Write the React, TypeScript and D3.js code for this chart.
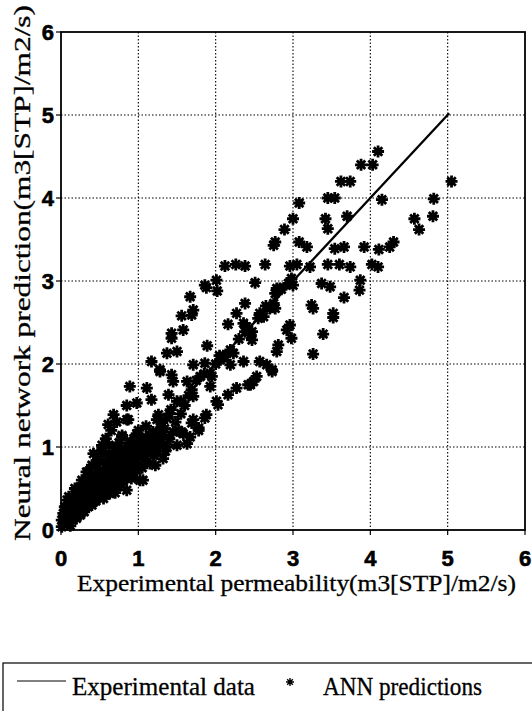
import React from "react";
import * as d3 from "d3";

const xTicks = [0, 1, 2, 3, 4, 5, 6];
const yTicks = [0, 1, 2, 3, 4, 5, 6];
const lineX = [0, 5.02];
const lineY = [0, 5.02];

const annPoints: [number, number][] = [
  [4.10,4.56],[3.88,4.40],[4.03,4.40],[3.62,4.20],[3.74,4.20],[3.45,4.00],[3.54,4.00],[3.08,3.94],[4.15,3.98],[4.82,3.99],[5.05,4.20],
  [3.00,3.75],[3.42,3.75],[3.70,3.78],[3.45,3.63],[2.89,3.62],[4.57,3.75],[4.63,3.62],[4.81,3.78],[2.75,3.43],[2.77,3.47],[3.08,3.47],
  [3.18,3.41],[3.54,3.39],[3.66,3.41],[3.92,3.41],[4.11,3.38],[4.25,3.41],[4.30,3.47],[2.96,3.18],[3.05,3.20],[3.22,3.17],[3.45,3.20],
  [3.60,3.20],[3.74,3.17],[4.02,3.20],[4.10,3.17],[2.94,2.97],[3.00,2.95],[2.98,3.03],[3.37,2.97],[3.48,2.93],[3.87,3.01],[3.86,2.89],
  [3.66,2.80],[2.77,2.85],[2.75,2.73],[2.77,2.67],[3.24,2.71],[3.26,2.67],[3.52,2.61],[3.52,2.56],[3.39,2.36],[2.96,2.47],[2.92,2.41],
  [2.98,2.31],[2.81,2.23],[2.79,2.15],[3.26,2.12],[2.73,1.93],
  [2.12,3.18],[2.26,3.20],[2.38,3.18],[2.64,3.20],[1.88,2.92],[2.01,3.01],[2.02,2.88],[2.51,2.98],[1.86,2.95],[2.83,2.91],[2.79,2.91],
  [1.67,2.81],[1.71,2.65],[1.69,2.59],[1.56,2.58],[2.38,2.73],[2.27,2.61],[2.70,2.67],[2.57,2.61],[2.62,2.57],[2.16,2.48],[2.36,2.49],
  [2.38,2.39],[2.47,2.39],[2.45,2.35],[2.47,2.29],[1.43,2.37],[1.43,2.31],[1.58,2.41],[1.89,2.22],[1.37,2.13],[1.50,2.15],[2.19,2.17],
  [2.23,2.13],[2.12,2.09],[1.17,2.03],[1.71,1.99],[1.86,2.01],[1.93,1.89],[2.06,2.05],[2.19,1.99],[2.36,2.03],[2.57,2.03],[2.66,1.99],
  [2.73,1.91],[1.28,1.93],[1.43,1.87],[1.45,1.79],[1.63,1.79],[1.93,1.73],[0.89,1.73],[1.11,1.71],[2.53,1.85],[2.45,1.75],[2.27,1.71],
  [2.16,1.63],[1.69,1.69],[1.71,1.61],[1.39,1.63],[1.50,1.55],[1.17,1.57],[2.01,1.55],[2.03,1.51],[0.98,1.53],[1.26,1.39],[1.24,1.33],
  [1.37,1.35],[1.88,1.39],[1.86,1.35],[1.71,1.33],[1.69,1.29],[0.85,1.33],[1.78,1.23],[1.19,1.18],[1.32,1.14],[1.45,1.18],[1.56,1.18],
  [0.98,1.16],[0.94,1.10],[0.79,1.12],[1.02,1.04],[1.13,1.02],[1.24,1.00],[1.37,1.00],[1.95,1.85],[2.49,1.79],[2.42,1.75],[1.67,1.12],
  [1.78,1.20],[1.28,1.91],[1.55,1.55],[1.65,1.62],[1.75,1.80],[1.80,1.85],[2.00,2.00],[2.10,2.10],[2.30,2.30],[2.40,2.45],[2.55,2.55],
  [2.65,2.70],[2.85,2.90],[1.30,1.30],[1.40,1.40],[1.85,1.88],[2.05,2.10],
  [0.68,1.39],[0.61,1.27],[0.87,1.33],[0.79,1.14],[0.53,1.02],[0.72,1.00],[1.06,1.06],[1.15,1.12],[1.52,1.20],[1.58,1.16],[1.50,1.02],
  [1.63,1.04],[0.42,0.92],[0.55,0.82],[0.40,0.78],[0.63,0.90],[0.83,0.90],[0.93,0.88],[1.04,0.96],[1.11,1.00],[1.32,0.86],[1.22,0.78],
  [0.98,0.72],[0.91,0.62],[1.06,0.60],[0.33,0.70],[0.31,0.58],[0.25,0.52],[0.18,0.50],[0.10,0.40],[0.08,0.36],[0.85,0.48],[0.63,0.44],
  [0.72,0.52],[0.42,0.36],[0.50,0.40],[0.05,0.28],[0.03,0.20],[0.01,0.12],[0.01,0.04],[1.02,0.60],
  [0.05,0.10],[0.08,0.15],[0.10,0.08],[0.12,0.20],[0.15,0.12],[0.15,0.25],[0.18,0.18],[0.20,0.30],[0.20,0.14],[0.22,0.22],[0.25,0.35],
  [0.25,0.18],[0.28,0.26],[0.30,0.40],[0.30,0.22],[0.32,0.32],[0.35,0.48],[0.35,0.28],[0.38,0.38],[0.40,0.55],[0.40,0.30],[0.42,0.45],
  [0.45,0.62],[0.45,0.35],[0.48,0.50],[0.50,0.70],[0.52,0.45],[0.55,0.58],[0.55,0.38],[0.58,0.75],[0.60,0.50],[0.60,0.65],[0.62,0.85],
  [0.65,0.55],[0.68,0.70],[0.70,0.95],[0.70,0.45],[0.72,0.62],[0.75,0.80],[0.75,1.05],[0.78,0.55],[0.80,0.70],[0.82,0.95],[0.85,0.62],
  [0.88,0.80],[0.90,1.05],[0.92,0.68],[0.95,0.95],[0.98,0.80],[1.00,1.20],[1.02,0.90],[1.05,0.75],[1.08,0.85],[1.10,1.25],[1.12,0.92],
  [1.15,0.80],[1.18,1.05],[1.20,0.90],[1.25,0.95],[1.28,1.20],[1.30,1.05],[1.35,0.95],[1.40,1.10],[1.42,1.45],[1.48,1.30],[1.55,1.40],
  [1.60,1.50],[0.58,1.10],[0.48,0.85],[0.38,0.65],[0.28,0.48],[0.15,0.35],[0.65,1.20],[0.85,1.50],[0.08,0.25],[0.12,0.05],[0.22,0.40],
  [0.35,0.60],[0.52,0.95],[0.72,1.30],
  [0.05,0.18],[0.10,0.22],[0.12,0.30],[0.18,0.28],[0.20,0.40],[0.24,0.28],[0.27,0.42],[0.30,0.32],[0.33,0.52],[0.36,0.40],[0.40,0.45],
  [0.43,0.55],[0.46,0.48],[0.47,0.70],[0.50,0.58],[0.53,0.52],[0.56,0.68],[0.58,0.60],[0.60,0.80],[0.63,0.70],[0.66,0.62],[0.67,0.85],
  [0.70,0.75],[0.73,0.88],[0.76,0.68],[0.78,0.92],[0.80,0.82],[0.83,0.75],[0.86,1.00],[0.88,0.92],[0.90,0.78],[0.93,1.00],[0.96,0.88],
  [1.00,1.00],[1.03,1.10],[1.06,0.95],[1.10,1.12],[1.14,1.02],[1.18,1.15],[1.22,1.08],[1.26,1.15],[1.34,1.22],[0.62,1.02],[0.55,0.95],
  [0.45,0.80],[0.35,0.70],[0.27,0.60],[0.20,0.48],[0.66,0.48],[0.58,0.42],[0.76,0.58],[0.90,0.70]
];

const W = 532;
const H = 711;
const left = 61, right = 525, top = 32, bottom = 530;

function star(cx: number, cy: number, r: number): string {
  const p = d3.path();
  for (let i = 0; i < 4; i++) {
    const a = (i * Math.PI) / 4;
    const dx = Math.cos(a) * r, dy = Math.sin(a) * r;
    p.moveTo(cx - dx, cy - dy);
    p.lineTo(cx + dx, cy + dy);
  }
  return p.toString();
}

export default function App() {
  const x = d3.scaleLinear().domain([0, 6]).range([left, right]);
  const y = d3.scaleLinear().domain([0, 6]).range([bottom, top]);
  const line = d3.line<number>().x((_, i) => x(lineX[i])).y((_, i) => y(lineY[i]));
  const serif = "'Liberation Serif', 'Times New Roman', serif";
  const sans = "'Liberation Sans', Arial, sans-serif";
  return (
    <svg width={W} height={H} style={{ position: "absolute", left: 0, top: 0, background: "#fff" }}>
      <rect x={0} y={0} width={W} height={H} fill="#fff" />
      {xTicks.slice(1, -1).map((t) => (
        <line key={"gx" + t} x1={x(t)} x2={x(t)} y1={top} y2={bottom} stroke="#000" strokeWidth={1.1} strokeDasharray="1.5,2" />
      ))}
      {yTicks.slice(1, -1).map((t) => (
        <line key={"gy" + t} x1={left} x2={right} y1={y(t)} y2={y(t)} stroke="#000" strokeWidth={1.1} strokeDasharray="1.5,2" />
      ))}
      <rect x={left} y={top} width={right - left} height={bottom - top} fill="none" stroke="#000" strokeWidth={1.8} />
      {xTicks.map((t) => (
        <g key={"xt" + t}>
          <line x1={x(t)} x2={x(t)} y1={bottom} y2={bottom + 5} stroke="#000" strokeWidth={1.2} />
          <text x={x(t)} y={566} textAnchor="middle" fontFamily={sans} fontWeight="bold" fontSize={22} stroke="#000" strokeWidth={0.6}>{t}</text>
        </g>
      ))}
      {yTicks.map((t) => (
        <g key={"yt" + t}>
          <line x1={left - 5} x2={left} y1={y(t)} y2={y(t)} stroke="#000" strokeWidth={1.2} />
          <text x={54} y={y(t)} dy="0.36em" textAnchor="end" fontFamily={sans} fontWeight="bold" fontSize={22} stroke="#000" strokeWidth={0.6}>{t}</text>
        </g>
      ))}
      <path d={line(lineX) || ""} fill="none" stroke="#000" strokeWidth={2.3} />
      <g>
        {annPoints.map((p, i) => (
          <g key={i}>
            <path d={star(x(p[0]), y(p[1]), 6)} stroke="#000" strokeWidth={2.8} fill="none" />
            <circle cx={x(p[0])} cy={y(p[1])} r={3.4} fill="#000" />
          </g>
        ))}
      </g>
      <text x={77} y={591} fontFamily={serif} fontSize={23} textLength={439} lengthAdjust="spacingAndGlyphs" stroke="#000" strokeWidth={0.3}>
        Experimental permeability(m3[STP]/m2/s)
      </text>
      <text transform="translate(30,541) rotate(-90)" x={0} y={0} fontFamily={serif} fontSize={23} textLength={536} lengthAdjust="spacingAndGlyphs" stroke="#000" strokeWidth={0.3}>
        Neural network prediction(m3[STP]/m2/s)
      </text>
      <rect x={3} y={663} width={560} height={80} fill="none" stroke="#000" strokeWidth={1.2} />
      <line x1={17} x2={66} y1={681} y2={681} stroke="#000" strokeWidth={1} />
      <text x={72} y={695} fontFamily={serif} fontSize={25} textLength={183} lengthAdjust="spacingAndGlyphs" stroke="#000" strokeWidth={0.3}>Experimental data</text>
      <path d={star(290, 682, 4)} stroke="#000" strokeWidth={1.4} fill="none" />
      <text x={323} y={695} fontFamily={serif} fontSize={25} textLength={159} lengthAdjust="spacingAndGlyphs" stroke="#000" strokeWidth={0.3}>ANN predictions</text>
    </svg>
  );
}
